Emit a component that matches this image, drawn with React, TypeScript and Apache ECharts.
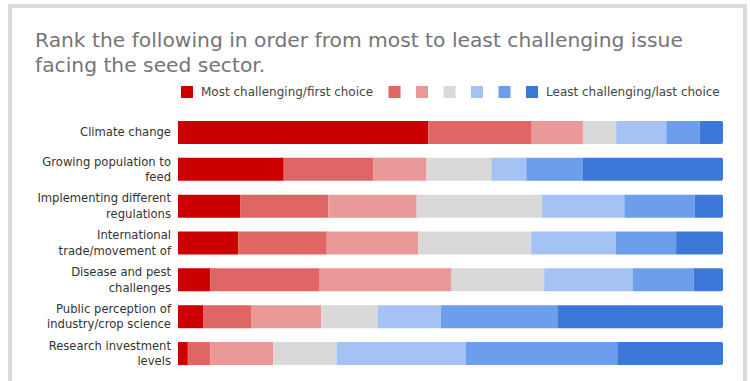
import React, { useEffect, useRef } from "react";
import * as echarts from "echarts";

const titleText =
  "Rank the following in order from most to least challenging issue\nfacing the seed sector.";

const categories = [
  "Climate change",
  "Growing population to\nfeed",
  "Implementing different\nregulations",
  "International\ntrade/movement of",
  "Disease and pest\nchallenges",
  "Public perception of\nindustry/crop science",
  "Research investment\nlevels",
];

const seriesNames = [
  "Most challenging/first choice",
  "Rank 2",
  "Rank 3",
  "Rank 4",
  "Rank 5",
  "Rank 6",
  "Least challenging/last choice",
];

const rank1 = [45.9, 19.4, 11.4, 11.1, 5.9, 4.6, 1.8];
const rank2 = [19.0, 16.4, 16.2, 16.2, 20.1, 8.8, 4.1];
const rank3 = [9.4, 9.8, 16.2, 16.8, 24.2, 12.9, 11.6];
const rank4 = [6.1, 11.9, 23.0, 20.7, 17.0, 10.3, 11.6];
const rank5 = [9.2, 6.4, 15.1, 15.5, 16.2, 11.6, 23.7];
const rank6 = [6.1, 10.3, 12.9, 11.1, 11.2, 21.4, 27.8];
const rank7 = [4.3, 25.8, 5.2, 8.6, 5.4, 30.4, 19.4];

const allRanks = [rank1, rank2, rank3, rank4, rank5, rank6, rank7];

const colors = ["#cc0000", "#e06666", "#ea9999", "#d9d9d9", "#a4c2f4", "#6d9eeb", "#3c78d8"];

export default function App() {
  const ref = useRef<HTMLDivElement>(null);

  useEffect(() => {
    if (!ref.current) return;
    const chart = echarts.init(ref.current, null, { renderer: "svg" });
    const labeled = [seriesNames[0], seriesNames[6]];
    chart.setOption({
      animation: false,
      color: colors,
      graphic: [
        {
          type: "rect",
          z: -10,
          silent: true,
          shape: { x: 10, y: 6, width: 735, height: 420 },
          style: { fill: "#ffffff", stroke: "#dadada", lineWidth: 4 },
        },
      ],
      title: {
        text: titleText,
        left: 35,
        top: 27,
        padding: 0,
        textStyle: {
          fontFamily: "DejaVu Sans",
          fontSize: 20.25,
          lineHeight: 25,
          fontWeight: "normal",
          color: "#757575",
        },
      },
      legend: {
        left: 181,
        top: 86,
        padding: 0,
        itemWidth: 12,
        itemHeight: 12,
        itemGap: 15.5,
        icon: "rect",
        data: seriesNames,
        formatter: (name: string) => (labeled.includes(name) ? name : ""),
        textStyle: {
          fontFamily: "DejaVu Sans",
          fontSize: 12,
          color: "#444444",
          padding: [0, 0, 0, 3],
        },
      },
      grid: { left: 178, right: 27, top: 114, bottom: 9, containLabel: false },
      xAxis: {
        type: "value",
        min: 0,
        max: 100,
        show: false,
      },
      yAxis: {
        type: "category",
        inverse: true,
        data: categories,
        axisLine: { show: false },
        axisTick: { show: false },
        axisLabel: {
          margin: 7,
          fontFamily: "DejaVu Sans",
          fontSize: 11.6,
          lineHeight: 15.5,
          color: "#333333",
          align: "right",
        },
      },
      series: allRanks.map((vals, i) => ({
        name: seriesNames[i],
        type: "bar",
        stack: "total",
        barWidth: 23,
        data: vals,
        itemStyle: {
          color: colors[i],
          borderRadius: i === 6 ? [0, 2, 2, 0] : 0,
        },
      })),
    });
    return () => chart.dispose();
  }, []);

  return (
    <div
      ref={ref}
      style={{ position: "fixed", left: 0, top: 0, width: 750, height: 381, background: "#ffffff" }}
    />
  );
}
